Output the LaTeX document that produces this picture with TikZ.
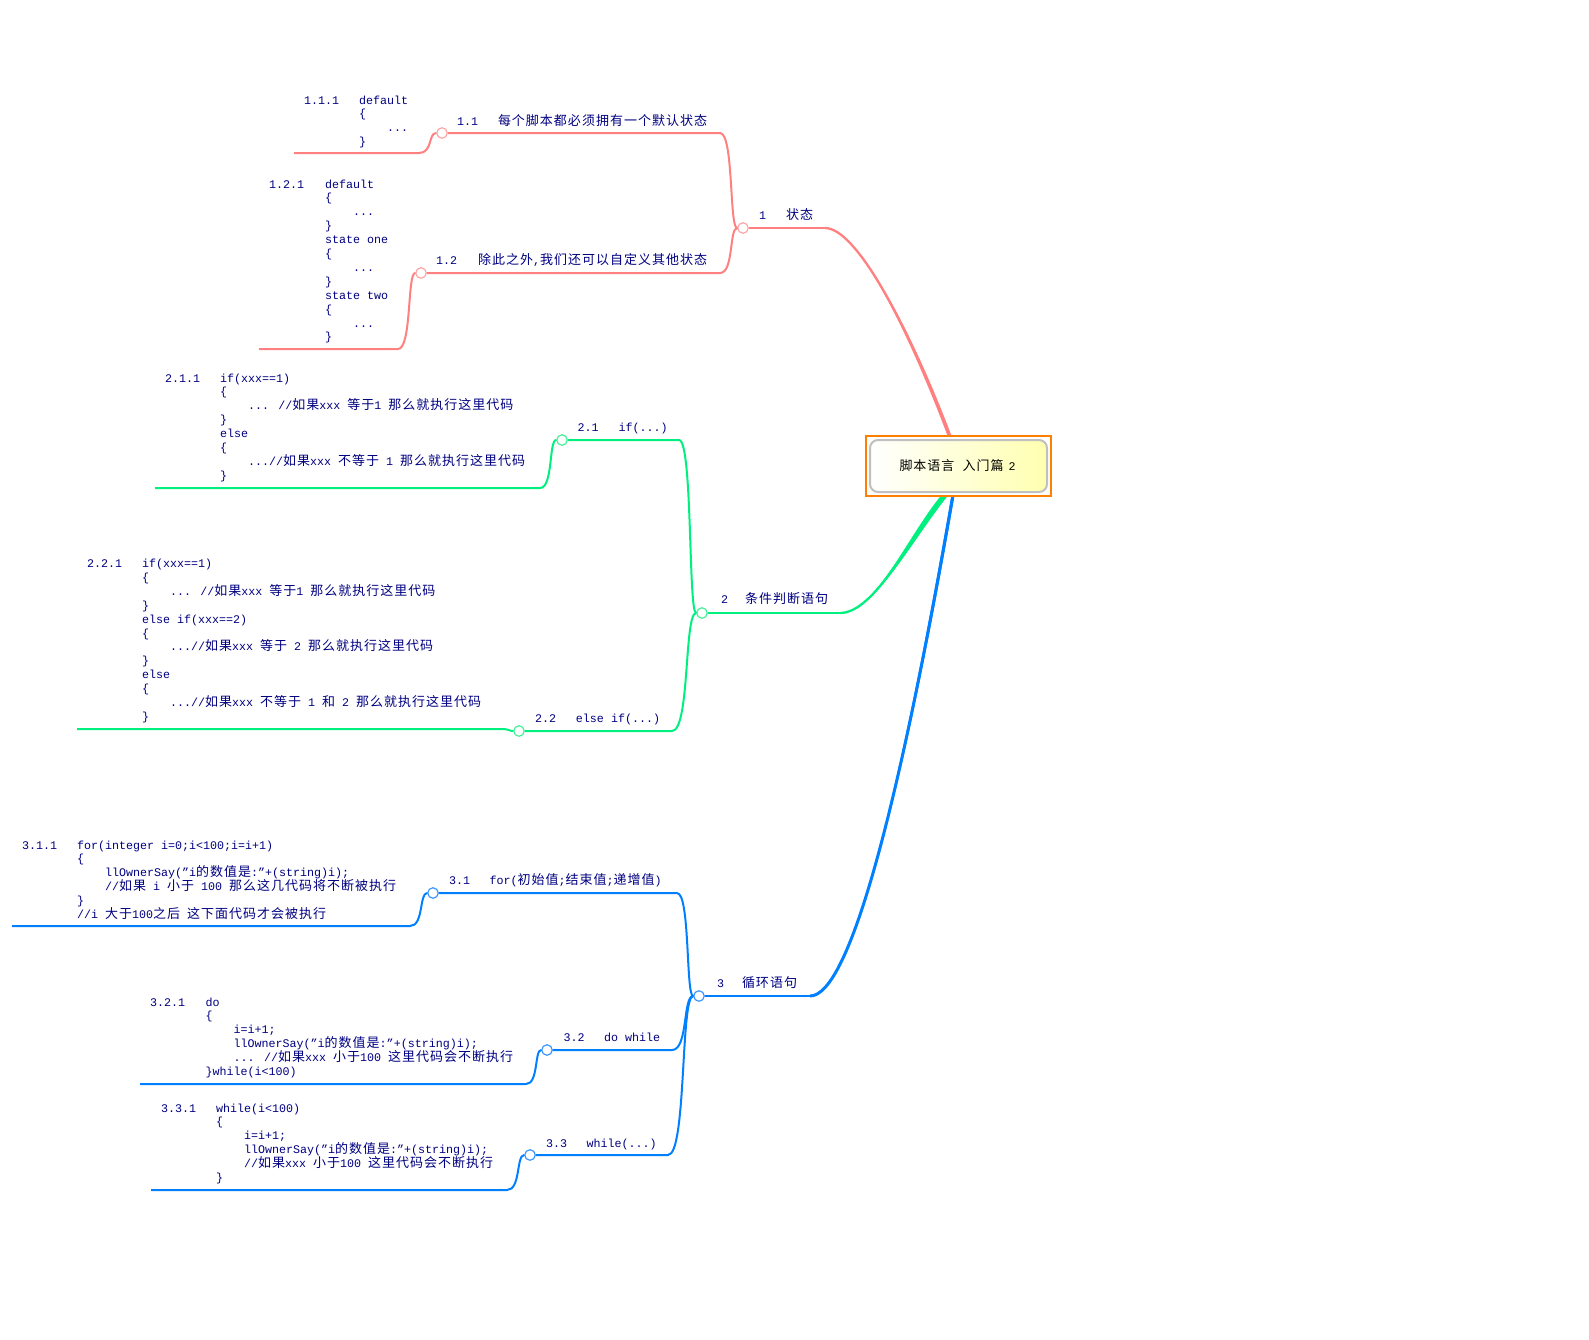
\documentclass[tikz,border=0pt]{standalone}
\usepackage{fontspec}
\setmainfont{Liberation Mono}
\newfontfamily\cjk[LetterSpace=7.7]{Noto Sans CJK SC}
\usetikzlibrary{calc}
\definecolor{navyt}{RGB}{0,0,128}
\definecolor{pinkc}{RGB}{255,128,128}
\definecolor{pinkl}{RGB}{255,165,165}
\definecolor{greenc}{RGB}{0,240,128}
\definecolor{greenl}{RGB}{70,240,150}
\definecolor{bluec}{RGB}{0,128,255}
\definecolor{bluel}{RGB}{60,150,255}
\definecolor{orangec}{RGB}{255,128,0}
\definecolor{grayb}{RGB}{192,192,192}
\definecolor{yel}{RGB}{255,255,176}
\newcommand\codefont{\fontsize{11.67}{13.9}\selectfont}
\newcommand\zh[1]{{\cjk\fontsize{13}{13.9}\selectfont #1}}
\newcommand\ind{\hspace*{28pt}}
\newcommand\cl[5]{\node[code] (#1) at (#2,#3+#4*13.9) {#5};}
\newcommand\conn[4]{\draw[#1] (#2) -- (#3) .. controls ($(#3)!0.6!(#3-|#4)$) and ($(#4)!0.6!(#4-|#3)$) .. (#4);}
\newcommand\branch[8]{%
  \draw[#1, line width=#7] (#2) .. controls ($(#2)+(#4,0)$) and ($(#3)+(#5,#6)$) .. (#3);
  \fill[#1] (#2) .. controls ($(#2)+(#4,0)$) and ($(#3)+(#5+#8,#6)$) .. ($(#3)+(#8,0)$) -- ($(#3)+(-#8,0)$) .. controls ($(#3)+(#5-#8,#6)$) and ($(#2)+(#4,0)$) .. (#2) -- cycle;}
\tikzset{
  code/.style={anchor=base west, inner sep=0pt, outer sep=0pt, text=navyt, font=\codefont},
  lbl/.style={anchor=base west, inner sep=0pt, outer sep=0pt, text=navyt, font=\codefont},
  hub/.style={circle, draw, fill=white, minimum size=10.5pt, inner sep=0pt, line width=1.2pt},
  br/.style={line width=2pt, line join=round},
}
\begin{document}
\begin{tikzpicture}[x=1pt,y=-1pt]
\useasboundingbox (0,0) rectangle (1589,1339);
% ---------- coordinates ----------
\coordinate (r1) at (825,228);
\coordinate (r11) at (720,133);
\coordinate (r12) at (720,273);
\coordinate (l111) at (294,153);
\coordinate (r111) at (419,153);
\coordinate (l121) at (259,349);
\coordinate (r121) at (398,349);
\coordinate (r2) at (840,613);
\coordinate (r21) at (679,440);
\coordinate (r22) at (672,731);
\coordinate (l211) at (155,488);
\coordinate (r211) at (540,488);
\coordinate (l221) at (77,729);
\coordinate (r221) at (500,729);
\coordinate (r3) at (810,996);
\coordinate (r31) at (677,893);
\coordinate (r32) at (672,1050);
\coordinate (r33) at (668,1155);
\coordinate (l311) at (12,926);
\coordinate (r311) at (410,926);
\coordinate (l321) at (140,1084);
\coordinate (r321) at (526,1084);
\coordinate (l331) at (151,1190);
\coordinate (r331) at (507,1190);
\coordinate (e1) at (950,437);
\coordinate (e2) at (945,495);
\coordinate (e3) at (953,495);
% ---------- hubs ----------
\node[hub, draw=pinkl] (c1) at (743,228) {};
\node[hub, draw=pinkl] (c11) at (442,133) {};
\node[hub, draw=pinkl] (c12) at (421,273) {};
\node[hub, draw=greenl] (c2) at (702,613) {};
\node[hub, draw=greenl] (c21) at (562,440) {};
\node[hub, draw=greenl] (c22) at (519,731) {};
\node[hub, draw=bluel] (c3) at (699,996) {};
\node[hub, draw=bluel] (c31) at (433,893) {};
\node[hub, draw=bluel] (c32) at (547,1050) {};
\node[hub, draw=bluel] (c33) at (530,1155) {};
% ---------- connectors ----------
\draw[pinkc, br] (c1) -- (r1);
\branch{pinkc}{r1}{e1}{30}{-45}{-119}{2.3pt}{2}
\conn{pinkc, br}{c11}{r11}{c1}
\conn{pinkc, br}{c12}{r12}{c1}
\conn{pinkc, br}{l111}{r111}{c11}
\conn{pinkc, br}{l121}{r121}{c12}
\draw[greenc, br] (c2) -- (r2);
\branch{greenc}{r2}{e2}{35}{-34}{41}{2.3pt}{3.5}
\conn{greenc, br}{c21}{r21}{c2}
\conn{greenc, br}{c22}{r22}{c2}
\conn{greenc, br}{l211}{r211}{c21}
\conn{greenc, br}{l221}{r221}{c22}
\draw[bluec, br] (c3) -- (r3);
\branch{bluec}{r3}{e3}{40}{-53}{306}{3pt}{1.5}
\conn{bluec, br}{c31}{r31}{c3}
\conn{bluec, br}{c32}{r32}{c3}
\conn{bluec, br}{c33}{r33}{c3}
\conn{bluec, br}{l311}{r311}{c31}
\conn{bluec, br}{l321}{r321}{c32}
\conn{bluec, br}{l331}{r331}{c33}
% ---------- root ----------
\node[draw=orangec, line width=2pt, fill=white, minimum width=185pt, minimum height=60pt, inner sep=0pt] (root) at (958.5,466) {};
\node[draw=grayb, line width=2pt, rounded corners=8pt, left color=white, right color=yel, minimum width=177pt, minimum height=52pt, inner sep=0pt] (rootin) at (958.5,466) {};
\node[inner sep=0pt, text=black, font=\codefont] (roottxt) at (957.5,466) {\zh{脚本语言}\hspace{8pt}\zh{入门篇}\hspace{5pt}2};
% ---------- labels ----------
\node[lbl] (t1) at (759,219.5) {\makebox[27pt][l]{1}\zh{状态}};
\node[lbl] (t11) at (457,125.5) {\makebox[41pt][l]{1.1}\zh{每个脚本都必须拥有一个默认状态}};
\node[lbl] (t12) at (436,264.5) {\makebox[42pt][l]{1.2}\zh{除此之外},\zh{我们还可以自定义其他状态}};
\node[lbl] (t2) at (721,603.5) {\makebox[24pt][l]{2}\zh{条件判断语句}};
\node[lbl] (t21) at (577.6,431) {\makebox[41pt][l]{2.1}if(...)};
\node[lbl] (t22) at (535,722.5) {\makebox[41pt][l]{2.2}else if(...)};
\node[lbl] (t3) at (717,987.5) {\makebox[25pt][l]{3}\zh{循环语句}};
\node[lbl] (t31) at (449,884) {\makebox[40.5pt][l]{3.1}for(\zh{初始值};\zh{结束值};\zh{递增值})};
\node[lbl] (t32) at (563.5,1041) {\makebox[40.5pt][l]{3.2}do while};
\node[lbl] (t33) at (546,1147) {\makebox[40.7pt][l]{3.3}while(...)};
% ---------- 1.1.1 ----------
\node[code] (n111) at (304,104) {1.1.1};
\cl{a0}{359}{104}{0}{default}
\cl{a1}{359}{104}{1}{\{}
\cl{a2}{359}{104}{2}{\ind...}
\cl{a3}{359}{104}{3}{\}}
% ---------- 1.2.1 ----------
\node[code] (n121) at (269,188) {1.2.1};
\cl{b0}{325}{188}{0}{default}
\cl{b1}{325}{188}{1}{\{}
\cl{b2}{325}{188}{2}{\ind...}
\cl{b3}{325}{188}{3}{\}}
\cl{b4}{325}{188}{4}{state one}
\cl{b5}{325}{188}{5}{\{}
\cl{b6}{325}{188}{6}{\ind...}
\cl{b7}{325}{188}{7}{\}}
\cl{b8}{325}{188}{8}{state two}
\cl{b9}{325}{188}{9}{\{}
\cl{b10}{325}{188}{10}{\ind...}
\cl{b11}{325}{188}{11}{\}}
% ---------- 2.1.1 ----------
\node[code] (n211) at (165,382) {2.1.1};
\cl{d0}{220}{382}{0}{if(xxx==1)}
\cl{d1}{220}{382}{1}{\{}
\cl{d2}{220}{382}{2}{\ind... //\zh{如果}xxx \zh{等于}1 \zh{那么就执行这里代码}}
\cl{d3}{220}{382}{3}{\}}
\cl{d4}{220}{382}{4}{else}
\cl{d5}{220}{382}{5}{\{}
\cl{d6}{220}{382}{6}{\ind...//\zh{如果}xxx \zh{不等于} 1 \zh{那么就执行这里代码}}
\cl{d7}{220}{382}{7}{\}}
% ---------- 2.2.1 ----------
\node[code] (n221) at (87,567.5) {2.2.1};
\cl{f0}{142}{567.5}{0}{if(xxx==1)}
\cl{f1}{142}{567.5}{1}{\{}
\cl{f2}{142}{567.5}{2}{\ind... //\zh{如果}xxx \zh{等于}1 \zh{那么就执行这里代码}}
\cl{f3}{142}{567.5}{3}{\}}
\cl{f4}{142}{567.5}{4}{else if(xxx==2)}
\cl{f5}{142}{567.5}{5}{\{}
\cl{f6}{142}{567.5}{6}{\ind...//\zh{如果}xxx \zh{等于} 2 \zh{那么就执行这里代码}}
\cl{f7}{142}{567.5}{7}{\}}
\cl{f8}{142}{567.5}{8}{else}
\cl{f9}{142}{567.5}{9}{\{}
\cl{f10}{142}{567.5}{10}{\ind...//\zh{如果}xxx \zh{不等于} 1 \zh{和} 2 \zh{那么就执行这里代码}}
\cl{f11}{142}{567.5}{11}{\}}
% ---------- 3.1.1 ----------
\node[code] (n311) at (22,849) {3.1.1};
\cl{g0}{77}{849}{0}{for(integer i=0;i<100;i=i+1)}
\cl{g1}{77}{849}{1}{\{}
\cl{g2}{77}{849}{2}{\ind llOwnerSay("i\zh{的数值是}:"+(string)i);}
\cl{g3}{77}{849}{3}{\ind//\zh{如果} i \zh{小于} 100 \zh{那么这几代码将不断被执行}}
\cl{g4}{77}{849}{4}{\}}
\cl{g5}{77}{849}{5}{//i \zh{大于}100\zh{之后} \zh{这下面代码才会被执行}}
% ---------- 3.2.1 ----------
\node[code] (n321) at (150,1006) {3.2.1};
\cl{h0}{205.7}{1006}{0}{do}
\cl{h1}{205.7}{1006}{1}{\{}
\cl{h2}{205.7}{1006}{2}{\ind i=i+1;}
\cl{h3}{205.7}{1006}{3}{\ind llOwnerSay("i\zh{的数值是}:"+(string)i);}
\cl{h4}{205.7}{1006}{4}{\ind... //\zh{如果}xxx \zh{小于}100 \zh{这里代码会不断执行}}
\cl{h5}{205.7}{1006}{5}{\}while(i<100)}
% ---------- 3.3.1 ----------
\node[code] (n331) at (161,1112) {3.3.1};
\cl{k0}{216}{1112}{0}{while(i<100)}
\cl{k1}{216}{1112}{1}{\{}
\cl{k2}{216}{1112}{2}{\ind i=i+1;}
\cl{k3}{216}{1112}{3}{\ind llOwnerSay("i\zh{的数值是}:"+(string)i);}
\cl{k4}{216}{1112}{4}{\ind//\zh{如果}xxx \zh{小于}100 \zh{这里代码会不断执行}}
\cl{k5}{216}{1112}{5}{\}}
\end{tikzpicture}
\end{document}
